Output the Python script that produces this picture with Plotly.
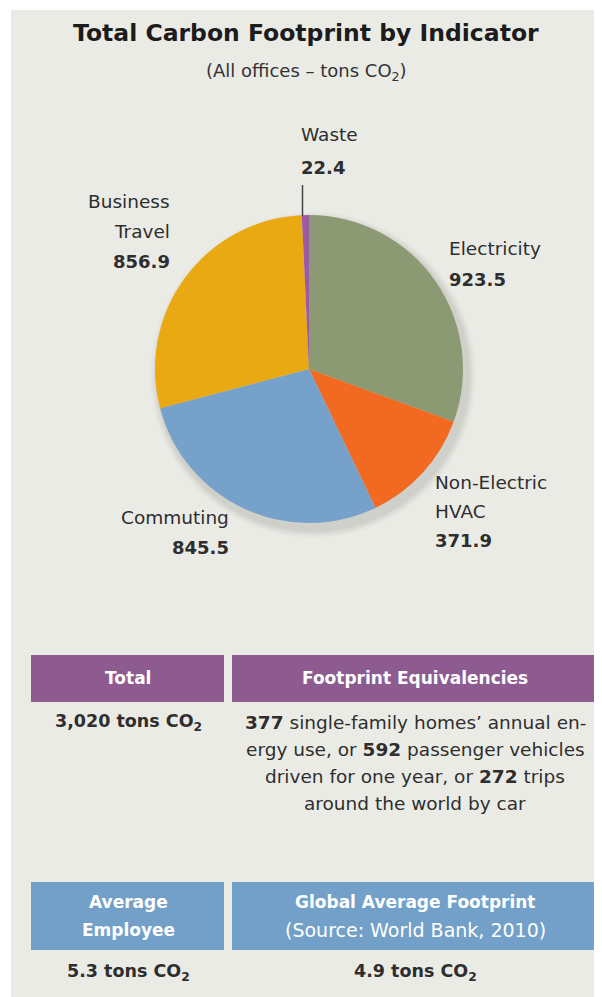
import plotly.graph_objects as go

# page body adds an 8px margin, so the figure is drawn 8px in from the window edge
OFF = 8
W, H = 602 - OFF, 997 - OFF

categories = ["Electricity", "Non-Electric HVAC", "Commuting", "Business Travel", "Waste"]
values = [923.5, 371.9, 845.5, 856.9, 22.4]
colors = ["#8b9a73", "#f26a22", "#75a1ca", "#e8a912", "#9b5aa3"]

title = "Total Carbon Footprint by Indicator"
subtitle = "(All offices \u2013 tons CO<sub>2</sub>)"

total_text = "3,020 tons CO<sub>2</sub>"
equiv_lines = [
    "<b>377</b> single-family homes\u2019 annual en-",
    "ergy use, or <b>592</b> passenger vehicles",
    "driven for one year, or <b>272</b> trips",
    "around the world by car",
]
avg_employee = "5.3 tons CO<sub>2</sub>"
global_avg = "4.9 tons CO<sub>2</sub>"

BG = "#ebebe6"
TXT = "#2e2e2e"
FONT = "DejaVu Sans, Verdana, sans-serif"


def px(x):
    return (x - OFF) / W


def py(y):
    return 1 - (y - OFF) / H


cx, cy, r = 309, 369, 154

fig = go.Figure()
fig.add_trace(go.Pie(
    labels=categories,
    values=values,
    marker=dict(colors=colors, line=dict(width=0)),
    sort=False,
    direction="clockwise",
    rotation=0,
    textinfo="none",
    hoverinfo="label+value",
    showlegend=False,
    domain=dict(x=[px(cx - r), px(cx + r)], y=[py(cy + r), py(cy - r)]),
))

shapes = []
# background panel
shapes.append(dict(type="rect", xref="paper", yref="paper", x0=px(11), x1=px(602), y0=py(997), y1=py(10),
                   fillcolor=BG, line=dict(width=0), layer="below"))
# soft shadow under pie (offset down-right)
for off, op in [(9, 0.025), (7, 0.035), (5, 0.045), (3, 0.06)]:
    rr = r + off
    shapes.append(dict(type="circle", xref="paper", yref="paper",
                       x0=px(cx + 4 - rr), x1=px(cx + 4 + rr), y0=py(cy + 6 + rr), y1=py(cy + 6 - rr),
                       fillcolor="rgba(70,70,60,%f)" % op, line=dict(width=0), layer="below"))
# waste leader line
shapes.append(dict(type="line", xref="paper", yref="paper", x0=px(302.5), x1=px(302.5), y0=py(185), y1=py(216),
                   line=dict(color="#444444", width=1.5)))
# header boxes
PURPLE = "#8e5b91"
BLUE = "#73a0c9"
for (x0, x1, y0, y1, c) in [(31, 224, 655, 702, PURPLE), (232, 598, 655, 702, PURPLE),
                            (31, 224, 882, 950, BLUE), (232, 598, 882, 950, BLUE)]:
    shapes.append(dict(type="rect", xref="paper", yref="paper", x0=px(x0), x1=px(x1), y0=py(y1), y1=py(y0),
                       fillcolor=c, line=dict(width=0), layer="below"))

ann = []


def add(text, x, y, size=19, color=TXT, anchor="center", bold=False):
    if bold:
        text = "<b>" + text + "</b>"
    ann.append(dict(text=text, x=px(x), y=py(y), xref="paper", yref="paper", showarrow=False,
                    xanchor=anchor, yanchor="middle", font=dict(size=size, color=color, family=FONT)))


add(title, 306, 33, size=23.5, color="#1c1c1c", bold=True)
add(subtitle, 306, 72, size=18, color="#333333")

# pie labels
LS, VS = 18.5, 18
add("Waste", 299, 135, size=LS, anchor="left")
add("22.4", 299, 167, size=VS, anchor="left", bold=True)
add("Business", 172, 202, size=LS, anchor="right")
add("Travel", 172, 232, size=LS, anchor="right")
add("856.9", 172, 262, size=VS, anchor="right", bold=True)
add("Electricity", 447, 248, size=LS, anchor="left")
add("923.5", 447, 279, size=VS, anchor="left", bold=True)
add("Non-Electric", 433, 482, size=LS, anchor="left")
add("HVAC", 433, 511, size=LS, anchor="left")
add("371.9", 433, 540, size=VS, anchor="left", bold=True)
add("Commuting", 231, 517, size=LS, anchor="right")
add("845.5", 231, 547, size=VS, anchor="right", bold=True)

# boxes
add("Total", 128, 678, size=17, color="white", bold=True)
add("Footprint Equivalencies", 415, 678, size=17, color="white", bold=True)
add(total_text, 128, 722, size=17.5, bold=True)
for i, line in enumerate(equiv_lines):
    add(line, 415, 722 + i * 27.3, size=18.5)
add("Average", 128, 902, size=17, color="white", bold=True)
add("Employee", 128, 930, size=17, color="white", bold=True)
add("Global Average Footprint", 415, 902, size=17, color="white", bold=True)
add("(Source: World Bank, 2010)", 415, 930, size=19, color="white")
add(avg_employee, 128, 972, size=17.5, bold=True)
add(global_avg, 415, 972, size=17.5, bold=True)

fig.update_layout(
    width=W, height=H,
    margin=dict(l=0, r=0, t=0, b=0),
    paper_bgcolor="white",
    plot_bgcolor="white",
    shapes=shapes,
    annotations=ann,
    font=dict(family=FONT),
)

fig.write_html("out.html")
